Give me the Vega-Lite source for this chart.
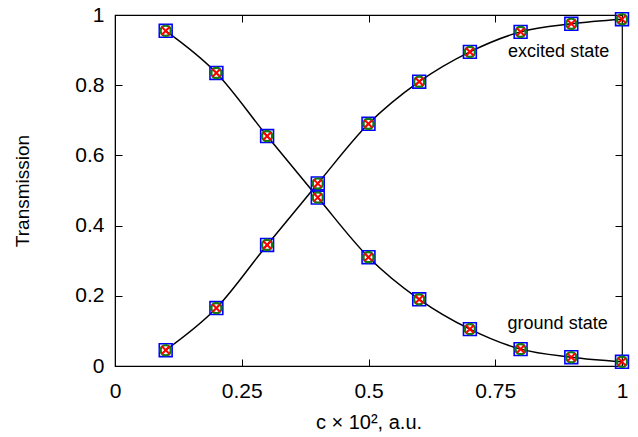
{
  "$schema": "https://vega.github.io/schema/vega-lite/v6.json",
  "width": 507,
  "height": 351,
  "autosize": "none",
  "padding": {"left": 115, "top": 15, "right": 16, "bottom": 71},
  "config": {
    "font": "Liberation Sans",
    "view": {"stroke": "#000000", "strokeWidth": 1.2},
    "axis": {"domainColor": "#000000", "tickColor": "#000000", "labelColor": "#000000", "titleColor": "#000000", "grid": false, "labelFlush": false, "labelOverlap": false, "titleFontWeight": "normal", "labelFont": "Liberation Sans", "titleFont": "Liberation Sans"}
  },
  "datasets": {
    "pts": [
      {"x": 0.1, "T": 0.955, "state": "ground"},
      {"x": 0.2, "T": 0.835, "state": "ground"},
      {"x": 0.3, "T": 0.655, "state": "ground"},
      {"x": 0.4, "T": 0.48, "state": "ground"},
      {"x": 0.5, "T": 0.31, "state": "ground"},
      {"x": 0.6, "T": 0.19, "state": "ground"},
      {"x": 0.7, "T": 0.105, "state": "ground"},
      {"x": 0.8, "T": 0.048, "state": "ground"},
      {"x": 0.9, "T": 0.025, "state": "ground"},
      {"x": 1.0, "T": 0.012, "state": "ground"},
      {"x": 0.1, "T": 0.045, "state": "excited"},
      {"x": 0.2, "T": 0.165, "state": "excited"},
      {"x": 0.3, "T": 0.345, "state": "excited"},
      {"x": 0.4, "T": 0.52, "state": "excited"},
      {"x": 0.5, "T": 0.69, "state": "excited"},
      {"x": 0.6, "T": 0.81, "state": "excited"},
      {"x": 0.7, "T": 0.895, "state": "excited"},
      {"x": 0.8, "T": 0.952, "state": "excited"},
      {"x": 0.9, "T": 0.975, "state": "excited"},
      {"x": 1.0, "T": 0.988, "state": "excited"}
    ],
    "labels": [
      {"x": 0.875, "T": 0.895, "text": "excited state"},
      {"x": 0.873, "T": 0.12, "text": "ground state"}
    ]
  },
  "resolve": {"axis": {"x": "independent", "y": "independent"}},
  "layer": [
    {
      "data": {"name": "pts"},
      "mark": {"type": "line", "color": "#000000", "strokeWidth": 1.5, "interpolate": "monotone"},
      "encoding": {
        "x": {"field": "x", "type": "quantitative", "scale": {"domain": [0, 1], "nice": false, "zero": false},
          "axis": {"orient": "bottom", "values": [0, 0.25, 0.5, 0.75, 1], "labelExpr": "'' + datum.value", "tickSize": -7, "labelPadding": 21, "labelFontSize": 21, "title": "c × 10², a.u.", "titleFontSize": 20, "titlePadding": 11}},
        "y": {"field": "T", "type": "quantitative", "scale": {"domain": [0, 1], "nice": false, "zero": false},
          "axis": {"orient": "left", "values": [0, 0.2, 0.4, 0.6, 0.8, 1], "labelExpr": "'' + datum.value", "tickSize": -7, "labelPadding": 18, "labelFontSize": 21, "title": "Transmission", "titleFontSize": 19, "titlePadding": 42}},
        "detail": {"field": "state"}
      }
    },
    {
      "data": {"name": "pts"},
      "mark": {"type": "point", "shape": "square", "filled": false, "stroke": "#0000ff", "strokeWidth": 1.6, "size": 165, "opacity": 1},
      "encoding": {
        "x": {"field": "x", "type": "quantitative", "axis": {"orient": "top", "values": [0, 0.25, 0.5, 0.75, 1], "labels": false, "domain": false, "tickSize": -7, "title": null}},
        "y": {"field": "T", "type": "quantitative", "axis": {"orient": "right", "values": [0, 0.2, 0.4, 0.6, 0.8, 1], "labels": false, "domain": false, "tickSize": -7, "title": null}}
      }
    },
    {
      "data": {"name": "pts"},
      "mark": {"type": "point", "shape": "circle", "filled": false, "stroke": "#137a13", "strokeWidth": 2.4, "size": 105, "opacity": 1},
      "encoding": {
        "x": {"field": "x", "type": "quantitative", "axis": null},
        "y": {"field": "T", "type": "quantitative", "axis": null}
      }
    },
    {
      "data": {"name": "pts"},
      "mark": {"type": "point", "shape": "M-1,-1L1,1M-1,1L1,-1", "filled": false, "stroke": "#ff0000", "strokeWidth": 2, "size": 60, "opacity": 1},
      "encoding": {
        "x": {"field": "x", "type": "quantitative", "axis": null},
        "y": {"field": "T", "type": "quantitative", "axis": null}
      }
    },
    {
      "data": {"name": "labels"},
      "mark": {"type": "text", "fontSize": 18, "color": "#000000", "align": "center", "baseline": "middle", "font": "Liberation Sans"},
      "encoding": {
        "x": {"field": "x", "type": "quantitative", "axis": null},
        "y": {"field": "T", "type": "quantitative", "axis": null},
        "text": {"field": "text"}
      }
    }
  ]
}
